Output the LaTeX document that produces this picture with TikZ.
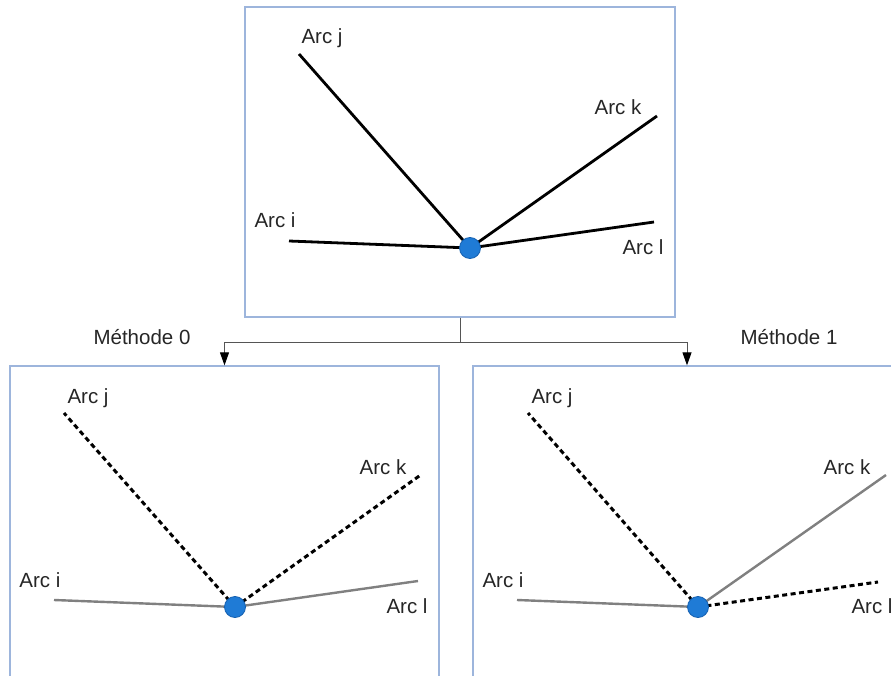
\documentclass[tikz,border=0pt]{standalone}
\usepackage{fontspec}
\setmainfont{Liberation Sans}
\usetikzlibrary{arrows.meta}
\definecolor{panelblue}{HTML}{9DB5DC}
\definecolor{hubblue}{HTML}{1F7BD6}
\definecolor{hubedge}{HTML}{1560B0}
\definecolor{keptgray}{HTML}{808080}
\definecolor{linkgray}{HTML}{555555}
\begin{document}
\begin{tikzpicture}[x=1pt, y=-1pt,
  panel/.style={draw=panelblue, line width=1.3pt, fill=white, inner sep=0pt},
  arc/.style={black, line width=2.8pt},
  kept/.style={keptgray, line width=2.4pt},
  cut/.style={black, line width=3pt, dash pattern=on 5pt off 3.5pt},
  hub/.style={circle, fill=hubblue, draw=hubedge, line width=0.8pt, minimum size=21pt, inner sep=0pt},
  lbl/.style={font=\fontsize{20.5}{24}\selectfont, text=black!85, inner sep=0pt},
  link/.style={linkgray, line width=1pt, -{Triangle[length=13pt,width=9pt,color=black]}}]
\useasboundingbox (0,0) rectangle (891,676);
\fill[white] (0,0) rectangle (891,676);

% the three panels
\node[panel, minimum width=430pt, minimum height=310pt] (top) at (460,162) {};
\node[panel, minimum width=429pt, minimum height=340pt] (left) at (224.5,536) {};
\node[panel, minimum width=428pt, minimum height=340pt] (right) at (687,536) {};

% links between the panels
\path (top.south) ++(0,25) coordinate (split);
\draw[link] (top.south) -- (split) -| (left.north);
\draw[link] (top.south) -- (split) -| (right.north);
\node[lbl] (m0) at (142,337) {Méthode 0};
\node[lbl] (m1) at (789,337) {Méthode 1};

% top panel: all arcs kept
\coordinate (tc) at (470,248);
\coordinate (tj) at (299,54);
\coordinate (tk) at (657,116);
\coordinate (ti) at (289,241);
\coordinate (tl) at (654,222);
\draw[arc] (tc) -- (tj);
\draw[arc] (tc) -- (tk);
\draw[arc] (tc) -- (ti);
\draw[arc] (tc) -- (tl);
\node[hub] (thub) at (tc) {};
\node[lbl] (tjl) at (322,38) {Arc j};
\node[lbl] (tkl) at (618,107) {Arc k};
\node[lbl] (til) at (275,220) {Arc i};
\node[lbl] (tll) at (643,247) {Arc l};

% methode 0
\coordinate (lc) at (235,607);
\coordinate (lj) at (64,413);
\coordinate (lk) at (422,474);
\coordinate (li) at (54,600);
\coordinate (ll) at (418,581);
\draw[cut] (lc) -- (lj);
\draw[cut] (lc) -- (lk);
\draw[kept] (lc) -- (li);
\draw[kept] (lc) -- (ll);
\node[hub] (lhub) at (lc) {};
\node[lbl] (ljl) at (88,398) {Arc j};
\node[lbl] (lkl) at (383,467) {Arc k};
\node[lbl] (lil) at (40,580) {Arc i};
\node[lbl] (lll) at (407,606) {Arc l};

% methode 1
\coordinate (rc) at (698,607);
\coordinate (rj) at (528,413);
\coordinate (rk) at (886,475);
\coordinate (ri) at (517,600);
\coordinate (rl) at (878,582);
\draw[cut] (rc) -- (rj);
\draw[kept] (rc) -- (rk);
\draw[kept] (rc) -- (ri);
\draw[cut] (rc) -- (rl);
\node[hub] (rhub) at (rc) {};
\node[lbl] (rjl) at (552,398) {Arc j};
\node[lbl] (rkl) at (847,467) {Arc k};
\node[lbl] (ril) at (503,580) {Arc i};
\node[lbl] (rll) at (872,606) {Arc l};
\end{tikzpicture}
\end{document}
